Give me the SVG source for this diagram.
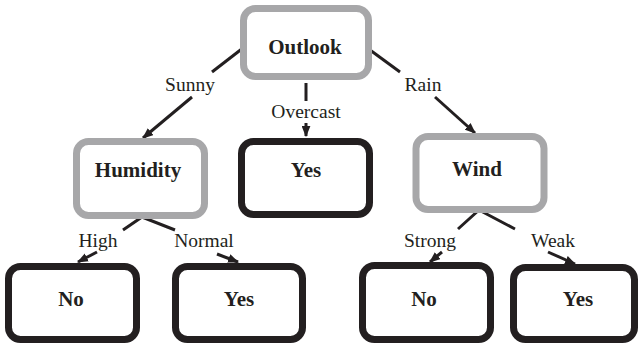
<svg xmlns="http://www.w3.org/2000/svg" width="639" height="345" viewBox="0 0 639 345">
<style>
.attr rect{fill:#fff;stroke:#a7a7a9;stroke-width:7}
.leaf rect{fill:#fff;stroke:#231f20;stroke-width:7}
.nt{font-family:"Liberation Serif",serif;font-weight:bold;font-size:21px;fill:#231f20;text-anchor:middle}
.lbl{font-family:"Liberation Serif",serif;font-size:19.5px;fill:#231f20;text-anchor:middle}
#edges path{fill:none;stroke:#231f20;stroke-width:3}
</style>
<defs>
<marker id="ah" viewBox="0 0 10 8" refX="9" refY="4" markerWidth="11" markerHeight="9" markerUnits="userSpaceOnUse" orient="auto">
<path d="M0,0 L10,4 L0,8 Z" fill="#231f20"/>
</marker>
</defs>
<g id="edges">
<path d="M243,48 L212,72"/>
<path d="M192,97 L143,138" marker-end="url(#ah)"/>
<path d="M306,83 L306,101"/>
<path d="M306,123 L306,136" marker-end="url(#ah)"/>
<path d="M370,50 L400,72"/>
<path d="M435,97 L475,133" marker-end="url(#ah)"/>
<path d="M123,230 L142,217 L175,230"/>
<path d="M97,252 L78,262" marker-end="url(#ah)"/>
<path d="M217,254 L238,262" marker-end="url(#ah)"/>
<path d="M458,229 L479,210 L515,229"/>
<path d="M442,252 L430,262" marker-end="url(#ah)"/>
<path d="M548,252 L575,264" marker-end="url(#ah)"/>
</g>
<g id="lbl-sunny"><text class="lbl" x="190" y="91">Sunny</text></g>
<g id="lbl-overcast"><text class="lbl" x="306" y="118">Overcast</text></g>
<g id="lbl-rain"><text class="lbl" x="423" y="91">Rain</text></g>
<g id="lbl-high"><text class="lbl" x="98" y="247">High</text></g>
<g id="lbl-normal"><text class="lbl" x="204" y="247">Normal</text></g>
<g id="lbl-strong"><text class="lbl" x="430" y="247">Strong</text></g>
<g id="lbl-weak"><text class="lbl" x="553" y="247">Weak</text></g>
<g id="outlook" class="attr"><rect x="243.5" y="8.5" width="125" height="68" rx="12"/><text class="nt" x="305" y="54">Outlook</text></g>
<g id="humidity" class="attr"><rect x="76.5" y="141.5" width="128" height="74" rx="12"/><text class="nt" x="138" y="177">Humidity</text></g>
<g id="yes-overcast" class="leaf"><rect x="241.5" y="141.5" width="128" height="73" rx="12"/><text class="nt" x="306" y="177">Yes</text></g>
<g id="wind" class="attr"><rect x="416" y="136.5" width="128" height="73" rx="12"/><text class="nt" x="477" y="176">Wind</text></g>
<g id="no-high" class="leaf"><rect x="8.5" y="266.5" width="128" height="73" rx="12"/><text class="nt" x="71" y="306">No</text></g>
<g id="yes-normal" class="leaf"><rect x="175.5" y="266.5" width="127" height="73" rx="12"/><text class="nt" x="239" y="306">Yes</text></g>
<g id="no-strong" class="leaf"><rect x="362.5" y="265.5" width="128" height="74" rx="12"/><text class="nt" x="424" y="306">No</text></g>
<g id="yes-weak" class="leaf"><rect x="513.5" y="267.5" width="121" height="72" rx="12"/><text class="nt" x="578" y="306">Yes</text></g>
</svg>
